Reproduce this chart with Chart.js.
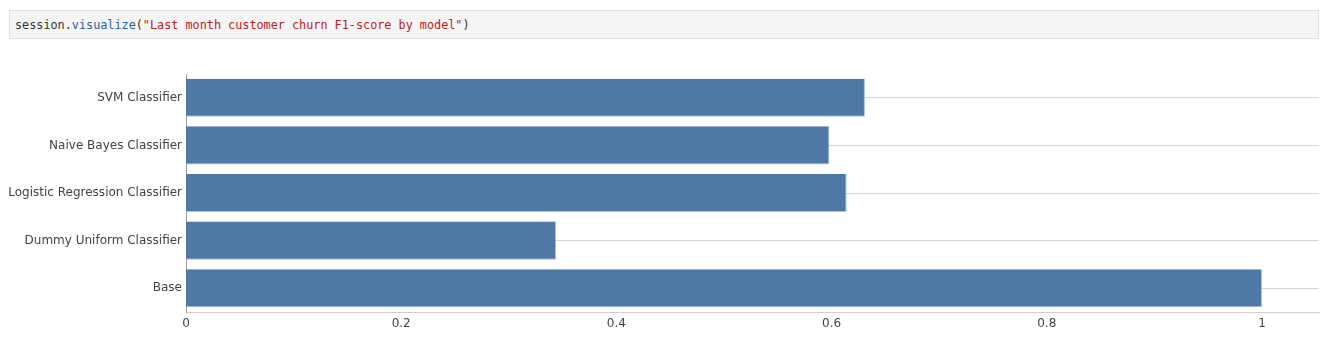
<!DOCTYPE html>
<html>
<head>
<meta charset="utf-8">
<script src="https://cdn.jsdelivr.net/npm/chart.js@4"></script>
<style>
  html, body { margin: 0; padding: 0; background: #fff; }
  #wrap { position: relative; width: 1330px; height: 351px; }
  #cell {
    position: absolute; left: 9px; top: 10px; width: 1310px; height: 29px;
    background: #f5f5f5; border: 1px solid #e0e0e0;
    font-family: "DejaVu Sans Mono", monospace; font-size: 11.8px;
    line-height: 28px; padding-left: 5px; box-sizing: border-box;
    color: #333;
  }
  .fn { color: #1f5fa8; }
  .str { color: #ba2121; }
  canvas { position: absolute; left: 0; top: 0; }
</style>
</head>
<body>
<div id="wrap">
  <canvas id="churnChart" width="1330" height="351"></canvas>
  <div id="cell">session.<span class="fn">visualize</span>(<span class="str">"Last month customer churn F1-score by model"</span>)</div>
</div>
<script>
// chart data
const models = ['SVM Classifier', 'Naive Bayes Classifier', 'Logistic Regression Classifier', 'Dummy Uniform Classifier', 'Base'];
const f1Scores = [0.631, 0.598, 0.614, 0.344, 1.0];
const xTickStep = 0.2;

const ctx = document.getElementById('churnChart').getContext('2d');
const labelFont = { family: 'DejaVu Sans', size: 12 };

new Chart(ctx, {
  type: 'bar',
  data: {
    labels: models,
    datasets: [{
      data: f1Scores,
      backgroundColor: '#4e79a7',
      borderColor: '#a9c1dc',
      borderWidth: { top: 0, left: 0, right: 1, bottom: 1 },
      barPercentage: 0.8,
      categoryPercentage: 1.0
    }]
  },
  options: {
    indexAxis: 'y',
    responsive: false,
    animation: false,
    layout: { padding: { top: 74, right: 11, left: 0, bottom: 0 } },
    plugins: { legend: { display: false }, tooltip: { enabled: false } },
    scales: {
      x: {
        min: 0,
        max: 1.053,
        grid: { display: false, drawTicks: false },
        border: { display: true, color: '#d0d0d0', width: 1 },
        ticks: {
          stepSize: xTickStep,
          includeBounds: false,
          color: '#444',
          padding: 5,
          font: labelFont,
          callback: v => String(Math.round(v * 10) / 10)
        },
        afterFit: scale => { scale.height = 39; }
      },
      y: {
        grid: { offset: false, color: '#d3d3d3', drawTicks: false },
        border: { display: true, color: '#999', width: 1 },
        ticks: {
          color: '#444',
          padding: 4,
          font: labelFont
        },
        afterFit: scale => { scale.width = 186; }
      }
    }
  }
});
</script>
</body>
</html>
